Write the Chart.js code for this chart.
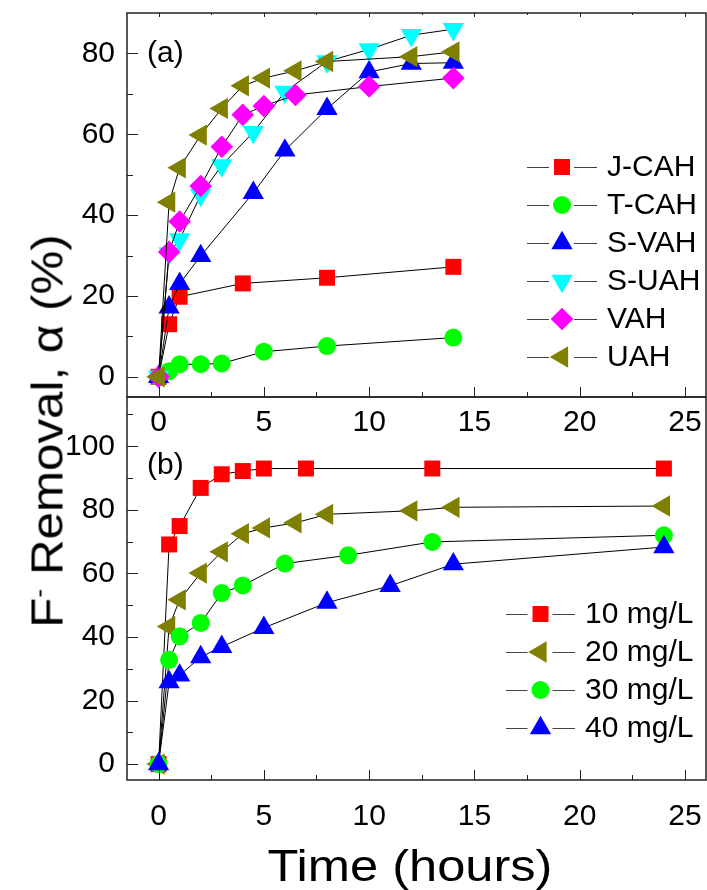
<!DOCTYPE html>
<html>
<head>
<meta charset="utf-8">
<script src="https://cdn.jsdelivr.net/npm/chart.js@4.4.1/dist/chart.umd.min.js"></script>
<style>
  body { margin: 0; background: #fff; }
  #wrap { position: relative; width: 707px; height: 890px; overflow: hidden; font-family: "Liberation Sans", Arial, sans-serif; }
  canvas { position: absolute; left: 0; }
  #chartA { top: 0; }
  #chartB { top: 390px; }
  #ytitle { position: absolute; left: 43px; top: 431px; transform: translate(-50%, -50%) rotate(-90deg) scaleX(1.12);
            font-size: 44px; line-height: 44px; white-space: nowrap; color: #000; }
  #ytitle sup { font-size: 24px; vertical-align: 16px; }
  #xtitle { position: absolute; left: 410px; top: 844px; transform: translateX(-50%) scaleX(1.15);
            font-size: 44px; line-height: 44px; white-space: nowrap; color: #000; }
</style>
</head>
<body>
<div id="wrap">
  <canvas id="chartA" width="707" height="445"></canvas>
  <canvas id="chartB" width="707" height="500"></canvas>
  <div id="ytitle">F<sup>-</sup> Removal, α (%)</div>
  <div id="xtitle">Time (hours)</div>
</div>
<script>
Chart.defaults.font.family = '"Liberation Sans", Arial, sans-serif'
Chart.defaults.color = '#000'

// tick values
const xTicks = [0, 5, 10, 15, 20, 25]
const xMinor = [2.5, 7.5, 12.5, 17.5, 22.5]
const yTicksA = [0, 20, 40, 60, 80]
const yMinorA = [10, 30, 50, 70, 90]
const yTicksB = [0, 20, 40, 60, 80, 100]
const yMinorB = [10, 30, 50, 70, 90, 110]

// panel (a): adsorbents
const tJCAH = [0, 0.5, 1, 4, 8, 14]
const vJCAH = [0, 13, 19.8, 23.1, 24.5, 27.2]
const tTCAH = [0, 0.5, 1, 2, 3, 5, 8, 14]
const vTCAH = [0, 1.4, 3.1, 3.1, 3.3, 6.2, 7.6, 9.7]
const tSVAH = [0, 0.5, 1, 2, 4.5, 6, 8, 10, 12, 14]
const vSVAH = [0, 17.2, 23, 29.9, 45.5, 56, 66.3, 75.4, 77.5, 77.7]
const tSUAH = [0, 0.5, 1, 2, 3, 4.5, 6, 8, 10, 12, 14]
const vSUAH = [0, 30.5, 34, 45, 52.3, 60.5, 70.5, 78, 81, 84.5, 86]
const tVAH = [0, 0.5, 1, 2, 3, 4, 5, 6.5, 10, 14]
const vVAH = [0, 30.9, 38.4, 47.2, 56.9, 64.8, 67, 69.7, 71.8, 73.9]
const tUAH = [0, 0.5, 1, 2, 3, 4, 5, 6.5, 8, 12, 14]
const vUAH = [0, 43.2, 51.7, 59.8, 66.4, 72, 73.9, 75.7, 78, 79.2, 80.4]

// panel (b): initial concentration
const t10 = [0, 0.5, 1, 2, 3, 4, 5, 7, 13, 24]
const v10 = [0, 69.1, 74.9, 86.9, 91.2, 92.2, 93, 93, 93, 93]
const t20 = [0, 0.5, 1, 2, 3, 4, 5, 6.5, 8, 12, 14, 24]
const v20 = [0, 43.3, 51.7, 60.1, 66.8, 72.5, 74.3, 75.9, 78.6, 79.7, 80.8, 81.2]
const t30 = [0, 0.5, 1, 2, 3, 4, 6, 9, 13, 24]
const v30 = [0, 32.8, 40.2, 44.4, 53.8, 56.2, 63.1, 65.7, 69.9, 72]
const t40 = [0, 0.5, 1, 2, 3, 5, 8, 11, 14, 24]
const v40 = [0, 25.8, 27.9, 33.7, 36.9, 42.9, 50.8, 56.1, 62.9, 68.3]

function series(label, xs, ys, color, style, radius, rotation, order) {
  return {
    label: label,
    data: xs.map((x, i) => ({x: x, y: ys[i]})),
    showLine: true,
    borderColor: '#000',
    borderWidth: 1,
    backgroundColor: color,
    pointBackgroundColor: color,
    pointBorderWidth: 0,
    pointStyle: style,
    pointRadius: radius,
    pointHoverRadius: radius,
    pointRotation: rotation,
    order: order
  }
}

// frame with inside ticks (major + minor)
const framePlugin = {
  id: 'frame',
  afterDraw(chart, args, o) {
    const ctx = chart.ctx
    const a = chart.chartArea
    const sx = chart.scales.x, sy = chart.scales.y
    ctx.save()
    ctx.strokeStyle = '#222'
    ctx.lineWidth = 1
    const seg = (x1, y1, x2, y2) => { ctx.beginPath(); ctx.moveTo(x1, y1); ctx.lineTo(x2, y2); ctx.stroke() }
    xTicks.forEach(v => { const p = Math.round(sx.getPixelForValue(v)) + 0.5; seg(p, a.bottom, p, a.bottom - 10); if (o.top) seg(p, a.top, p, a.top + 4) })
    xMinor.forEach(v => { const p = Math.round(sx.getPixelForValue(v)) + 0.5; seg(p, a.bottom, p, a.bottom - 5); if (o.top) seg(p, a.top, p, a.top + 2) })
    o.yMajor.forEach(v => { const p = Math.round(sy.getPixelForValue(v)) + 0.5; seg(a.left, p, a.left + 11, p) })
    o.yMinor.forEach(v => { const p = Math.round(sy.getPixelForValue(v)) + 0.5; if (p > a.top + 2) seg(a.left, p, a.left + 6, p) })
    ctx.lineWidth = 1.5
    ctx.strokeRect(a.left, a.top, a.right - a.left, a.bottom - a.top)
    ctx.fillStyle = '#000'
    ctx.font = '30px "Liberation Sans", Arial, sans-serif'
    ctx.textBaseline = 'alphabetic'
    ctx.fillText(o.tag, o.tagX, o.tagY)
    ctx.restore()
  }
}

// legend: line - marker - line, then label
const legendPlugin = {
  id: 'sideLegend',
  afterDraw(chart, args, o) {
    const ctx = chart.ctx
    ctx.save()
    ctx.font = '30px "Liberation Sans", Arial, sans-serif'
    ctx.textBaseline = 'middle'
    o.order.forEach((idx, i) => {
      const ds = chart.data.datasets[idx]
      const y = o.top + i * o.step
      const m = (o.x0 + o.x1) / 2
      ctx.strokeStyle = '#444'
      ctx.lineWidth = 1
      ctx.beginPath()
      ctx.moveTo(o.x0, y + 0.5); ctx.lineTo(m - 13, y + 0.5)
      ctx.moveTo(m + 12, y + 0.5); ctx.lineTo(o.x1, y + 0.5)
      ctx.stroke()
      ctx.fillStyle = ds.pointBackgroundColor
      Chart.helpers.drawPoint(ctx, {pointStyle: ds.pointStyle, rotation: ds.pointRotation, radius: ds.pointRadius, borderWidth: 0}, m, y)
      ctx.fillStyle = '#000'
      ctx.fillText(ds.label, o.tx, y + 1)
    })
    ctx.restore()
  }
}

function makeOptions(yMin, yMax, yTicks, xHeight, tickPad, padTop, extra) {
  return {
    responsive: false,
    animation: false,
    layout: {autoPadding: false, padding: {top: padTop, right: 1, left: 0, bottom: 0}},
    plugins: Object.assign({legend: {display: false}, tooltip: {enabled: false}}, extra),
    scales: {
      x: {
        type: 'linear', min: -1.5, max: 26,
        grid: {display: false, drawTicks: false},
        border: {display: false},
        afterBuildTicks: s => { s.ticks = xTicks.map(v => ({value: v})) },
        afterFit: s => { s.height = xHeight; s.paddingLeft = 0; s.paddingRight = 0 },
        ticks: {font: {size: 30}, padding: tickPad, maxRotation: 0, autoSkip: false}
      },
      y: {
        type: 'linear', min: yMin, max: yMax,
        grid: {display: false, drawTicks: false},
        border: {display: false},
        afterBuildTicks: s => { s.ticks = yTicks.map(v => ({value: v})) },
        afterFit: s => { s.width = 127; s.paddingTop = 0; s.paddingBottom = 0 },
        ticks: {font: {size: 30}, padding: 12}
      }
    }
  }
}

const optsA = makeOptions(-5, 90, yTicksA, 48, 8, 13, {
  frame: {yMajor: yTicksA, yMinor: yMinorA, top: true, tag: '(a)', tagX: 147, tagY: 62},
  sideLegend: {x0: 527, x1: 597, tx: 607, top: 167, step: 38, order: [0, 1, 2, 3, 4, 5]}
})

new Chart(document.getElementById('chartA'), {
  type: 'scatter',
  data: {
    datasets: [
      series('J-CAH', tJCAH, vJCAH, '#ff0000', 'rect', 11.3, 0, 5),
      series('T-CAH', tTCAH, vTCAH, '#00ff00', 'circle', 9, 0, 4),
      series('S-VAH', tSVAH, vSVAH, '#0000ff', 'triangle', 12.3, 0, 3),
      series('S-UAH', tSUAH, vSUAH, '#00ffff', 'triangle', 12.3, 180, 2),
      series('VAH', tVAH, vVAH, '#ff00ff', 'rectRot', 11.3, 0, 1),
      series('UAH', tUAH, vUAH, '#808000', 'triangle', 12.3, -90, 0)
    ]
  },
  options: optsA,
  plugins: [framePlugin, legendPlugin]
})

const optsB = makeOptions(-5, 115.5, yTicksB, 110, 19, 7, {
  frame: {yMajor: yTicksB, yMinor: yMinorB, top: false, tag: '(b)', tagX: 147, tagY: 84},
  sideLegend: {x0: 506, x1: 575, tx: 585, top: 224, step: 38, order: [0, 1, 2, 3]}
})

new Chart(document.getElementById('chartB'), {
  type: 'scatter',
  data: {
    datasets: [
      series('10 mg/L', t10, v10, '#ff0000', 'rect', 11.3, 0, 3),
      series('20 mg/L', t20, v20, '#808000', 'triangle', 12.3, -90, 2),
      series('30 mg/L', t30, v30, '#00ff00', 'circle', 9, 0, 1),
      series('40 mg/L', t40, v40, '#0000ff', 'triangle', 12.3, 0, 0)
    ]
  },
  options: optsB,
  plugins: [framePlugin, legendPlugin]
})
</script>
</body>
</html>
